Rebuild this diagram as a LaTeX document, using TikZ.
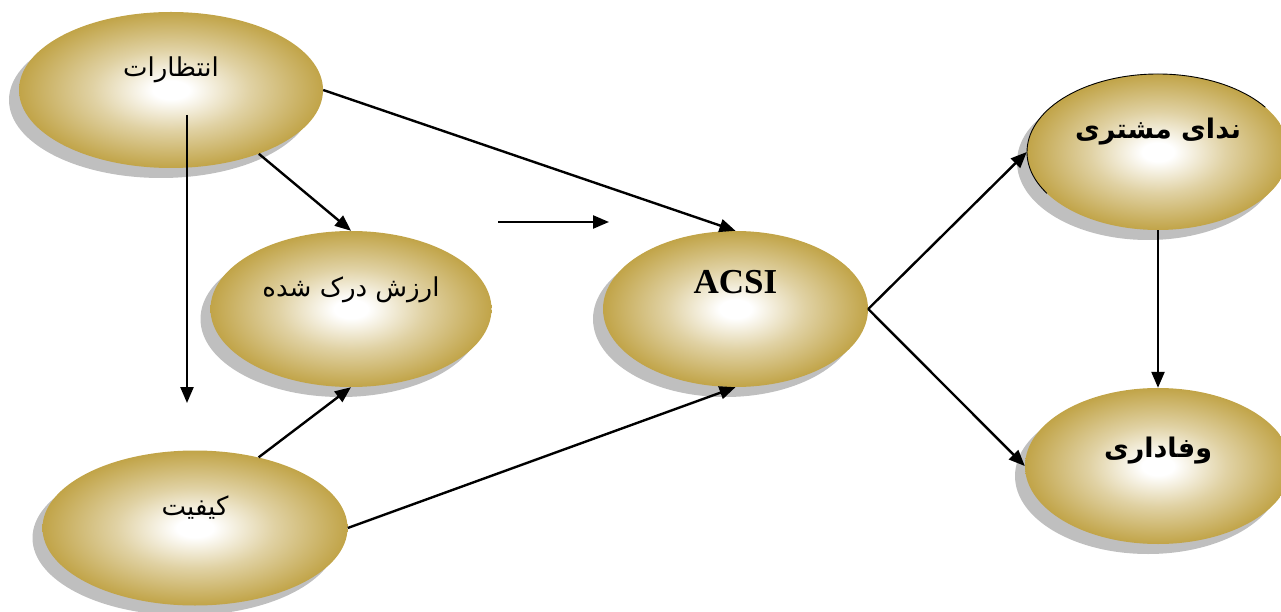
\documentclass[tikz,border=0pt]{standalone}
\usepackage{fontspec}
\usetikzlibrary{arrows.meta,shadows,shapes.geometric}
\TeXXeTstate=1
\newfontfamily\fa[Script=Arabic]{DejaVu Sans}
\newfontfamily\acsifont{Liberation Serif}
\definecolor{gold}{RGB}{193,164,72}
\definecolor{shadowgrey}{RGB}{191,191,191}
% white core fading out to gold towards the rim
\pgfdeclareradialshading{goldglow}{\pgfpoint{0bp}{0bp}}{color(0bp)=(white); color(3bp)=(white); color(13bp)=(gold!50!white); color(25bp)=(gold); color(50bp)=(gold)}
\tikzset{
  bubble/.style={ellipse, inner sep=0pt, shade, shading=goldglow,
    minimum height=156pt,
    drop shadow={shadow xshift=-10pt, shadow yshift=-10pt, fill=shadowgrey, opacity=1}},
  fatext/.style={font=\fa\fontsize{26}{30}\selectfont, inner sep=0pt},
  fabold/.style={font=\fa\bfseries\fontsize{27}{31}\selectfont, inner sep=0pt},
  link/.style={line width=2.4pt, -{Triangle[length=16pt,width=13pt]}}
}
\begin{document}
\begin{tikzpicture}[x=1pt,y=1pt]
\useasboundingbox (0,0) rectangle (1281,611);

% constructs
\node[bubble, minimum width=304pt,
  label={[fatext, yshift=20pt]center:\beginR انتظارات\endR}] (ent) at (171,521) {};
\node[bubble, minimum width=281pt,
  label={[fatext, yshift=19pt]center:\beginR ارزش درک شده\endR}] (arz) at (351,302) {};
\node[bubble, minimum width=305pt, minimum height=155pt,
  label={[fatext, yshift=20pt]center:\beginR کیفیت\endR}] (kay) at (195,83) {};
\node[bubble, minimum width=265pt,
  label={[font=\acsifont\bfseries\fontsize{35}{39}\selectfont, inner sep=0pt, yshift=27pt]center:ACSI}] (acsi) at (735.5,302) {};
\node[bubble, minimum width=262pt,
  label={[fabold, yshift=20pt]center:\beginR ندای مشتری\endR}] (nida) at (1158,459) {};
\node[bubble, minimum width=266pt,
  label={[fabold, yshift=15pt]center:\beginR وفاداری\endR}] (vafa) at (1158,145) {};

% partial dark rim on the upper-left of the complaints bubble
\draw[line width=0.9pt] (nida.center) ++(212:131 and 78)
  arc[start angle=212, end angle=35, x radius=131, y radius=78];

% free ends
\coordinate (c1s) at (187,496);
\coordinate (c1e) at (187,208);
\coordinate (c4s) at (498,389);
\coordinate (c4e) at (609,389);

% paths
\draw[link] (c1s) -- (c1e);
\draw[link] (ent.-36) -- (arz.north);
\draw[link] (ent.east) -- (acsi.north);
\draw[link] (c4s) -- (c4e);
\draw[link] (kay.48) -- (arz.south);
\draw[link] (kay.east) -- (acsi.south);
\draw[link] (acsi.east) -- (nida.west);
\draw[link] (acsi.east) -- (vafa.west);
\draw[link] (nida.south) -- (vafa.north);
\end{tikzpicture}
\end{document}
